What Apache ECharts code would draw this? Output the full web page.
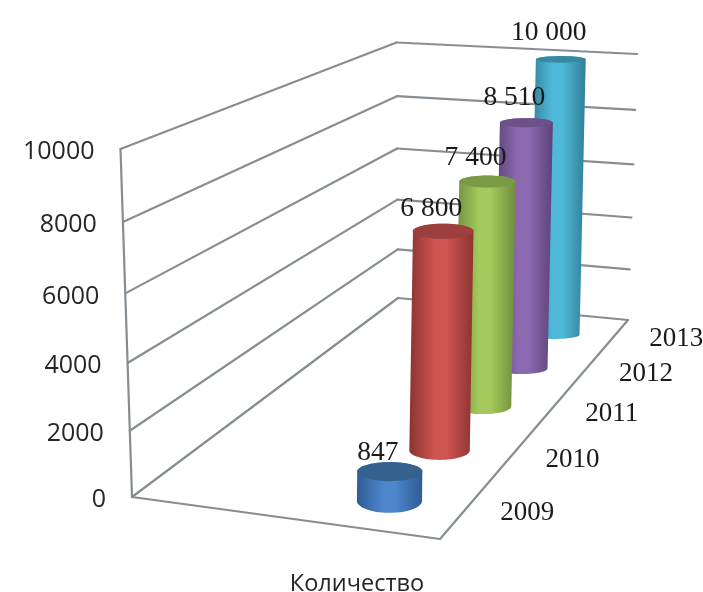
<!DOCTYPE html>
<html><head><meta charset="utf-8">
<style>html,body{margin:0;padding:0;background:#fff}#c{width:703px;height:592px;filter:blur(0.45px)}</style>
<script src="https://cdn.jsdelivr.net/npm/echarts@6/dist/echarts.min.js"></script>
</head><body><div id="c"></div>
<script>
const categories = ['2009', '2010', '2011', '2012', '2013'];
const quantity = [847, 6800, 7400, 8510, 10000];
const valueTicks = [0, 2000, 4000, 6000, 8000, 10000];
const axisTitle = 'Количество';
const barColors = [
  {edge:'#2f5c94', mid:'#4c86cc', cap:'#35618f'},
  {edge:'#8c3331', mid:'#cf5553', cap:'#9c3f3d'},
  {edge:'#6f8c3c', mid:'#a4ca5d', cap:'#7b9a45'},
  {edge:'#5c4379', mid:'#8c69b1', cap:'#6b5187'},
  {edge:'#2f7f98', mid:'#50b8d9', cap:'#38899f'}
];

/* projection of the chart's box: floor and top planes, as corners (u,d): 00,10,11,01 */
const floorQuad = [[132,497],[440,539],[628,320],[398,298]];
const topQuad   = [[120.5,149],[449,173],[637,54],[396.5,42.5]];
function quadMap(q){
  const [p0,p1,p2,p3]=q;
  const dx1=p1[0]-p2[0],dx2=p3[0]-p2[0],sx=p0[0]-p1[0]+p2[0]-p3[0];
  const dy1=p1[1]-p2[1],dy2=p3[1]-p2[1],sy=p0[1]-p1[1]+p2[1]-p3[1];
  const den=dx1*dy2-dx2*dy1;
  const g=(sx*dy2-dx2*sy)/den,h=(dx1*sy-sx*dy1)/den;
  const a=p1[0]-p0[0]+g*p1[0],b=p3[0]-p0[0]+h*p3[0];
  const d=p1[1]-p0[1]+g*p1[1],e=p3[1]-p0[1]+h*p3[1];
  return (u,v)=>{const w=g*u+h*v+1;return [(a*u+b*v+p0[0])/w,(d*u+e*v+p0[1])/w,w];};
}
const floorAt=quadMap(floorQuad), topAt=quadMap(topQuad);
function project(u,d,h){
  const f=floorAt(u,d),t=topAt(u,d),k=h*0.94/(1-0.06*h);
  return [f[0]+k*(t[0]-f[0]),f[1]+k*(t[1]-f[1]),f[2]];
}
const LINE='#868e93';
function boxCoords(params,api,cat,val){
  const c=params.coordSys,p=api.coord([cat,val]);
  return {d:(p[0]-c.x)/c.width,h:(c.y+c.height-p[1])/c.height};
}
function lineEl(a,b,z){
  return {type:'line',z2:z||1,shape:{x1:a[0],y1:a[1],x2:b[0],y2:b[1]},style:{stroke:LINE,lineWidth:2.2,lineCap:'round'}};
}
function renderWall(params,api){
  const {h}=boxCoords(params,api,0,api.value(1));
  const a=project(0,0,h),b=project(0,1,h),c=project(1,1,h);
  const kids=[lineEl(a,b),lineEl(b,c),
    {type:'text',z2:50,style:{text:String(api.value(1)),x:a[0]-26,y:a[1]+3,align:'right',verticalAlign:'middle',
      font:'25px "Open Sans"',fill:'#262626'}}];
  if(h===0){
    const fr=project(1,0,0),br=project(1,1,0),t=project(0,0,1);
    kids.push(lineEl(a,fr),lineEl(fr,br),lineEl(a,t));
  }
  return {type:'group',children:kids};
}
function fmt(v){return String(v).replace(/\B(?=(\d{3})+$)/g,' ');}
const BAR_U=0.755, BAR_R=32.5;
function ellipsePts(c,rx,ry,from,to,n){
  const out=[];
  for(let i=0;i<=n;i++){const t=from+(to-from)*i/n;out.push([c[0]+rx*Math.cos(t),c[1]+ry*Math.sin(t)]);}
  return out;
}
function renderBar(params,api){
  const i=api.value(0),v=api.value(1);
  const {d,h}=boxCoords(params,api,i,v);
  const b=project(BAR_U,d,0),t=project(BAR_U,d,h);
  b[1]+=1+4*d;
  const rb=BAR_R/b[2],rt=BAR_R/t[2];
  const tilt=0.39-0.25*d;
  const col=barColors[i%barColors.length],z=10-i;
  const body=ellipsePts(b,rb,rb*tilt,Math.PI,0,28).concat(ellipsePts(t,rt,rt*tilt*.8,0,-Math.PI,28));
  const xmin=Math.min(b[0]-rb,t[0]-rt),xmax=Math.max(b[0]+rb,t[0]+rt);
  const grad={type:'linear',x:xmin,y:0,x2:xmax,y2:0,global:true,colorStops:[
    {offset:0,color:col.edge},{offset:.4,color:col.mid},{offset:.58,color:col.mid},{offset:1,color:col.edge}]};
  const floorEdge=project(1,d,0);
  return {type:'group',children:[
    {type:'polygon',z2:z*2,shape:{points:body},style:{fill:grad}},
    {type:'polygon',z2:z*2+1,shape:{points:ellipsePts(t,rt,rt*tilt*.8,0,2*Math.PI,48)},style:{fill:col.cap}},
    {type:'text',z2:60,style:{text:fmt(v),x:t[0]-12,y:t[1]-19-13*h+5*Math.min(1,h/0.5),align:'center',verticalAlign:'middle',
      font:'27.5px "Liberation Serif"',fill:'#1a1a1a'}},
    {type:'text',z2:60,style:{text:categories[i],x:floorEdge[0]+62,y:floorEdge[1]+3,align:'center',verticalAlign:'middle',
      font:'27px "Liberation Serif"',fill:'#1a1a1a'}}
  ]};
}
const chart=echarts.init(document.getElementById('c'),null,{renderer:'canvas'});
chart.setOption({
  animation:false,
  backgroundColor:'#fff',
  title:{text:axisTitle,left:352,top:567,textAlign:'center',textStyle:{fontFamily:'Open Sans',fontSize:23.5,fontWeight:'normal',color:'#262626'}},
  grid:{left:120,right:60,top:150,bottom:95,containLabel:false},
  xAxis:{type:'category',data:categories,show:false},
  yAxis:{type:'value',min:0,max:10000,interval:2000,show:false},
  series:[
    {type:'custom',renderItem:renderWall,data:valueTicks.map(v=>[0,v]),z:1,silent:true},
    {type:'custom',renderItem:renderBar,data:quantity.map((v,i)=>[i,v]),z:2,silent:true}
  ]
});
</script></body></html>
